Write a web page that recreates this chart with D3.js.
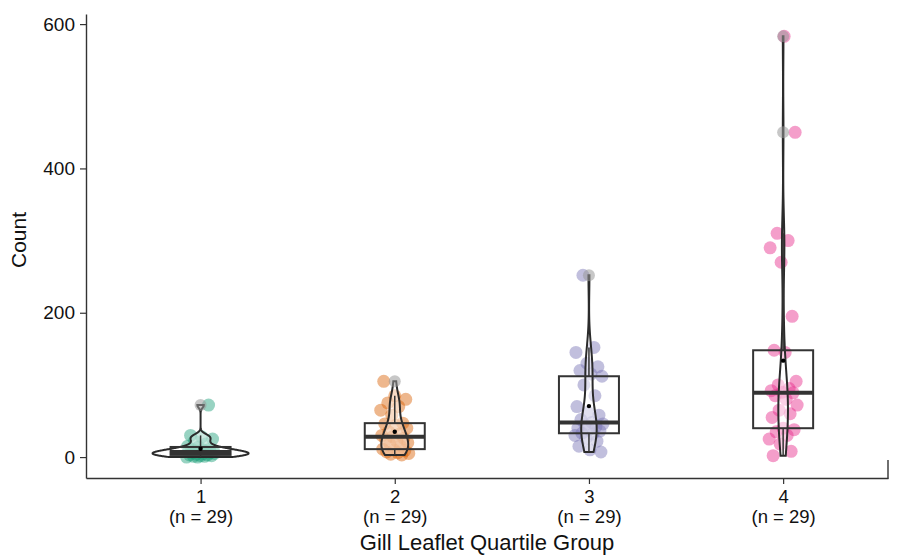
<!DOCTYPE html>
<html>
<head>
<meta charset="utf-8">
<script src="https://cdn.jsdelivr.net/npm/d3@7"></script>
<style>
  body { margin: 0; background: #fff; }
  svg { font-family: "Liberation Sans", Arial, sans-serif; }
</style>
</head>
<body>
<div id="chart"></div>
<script>
const groups = [1, 2, 3, 4];
const nLabels = ['(n = 29)', '(n = 29)', '(n = 29)', '(n = 29)'];
const yTicks = [0, 200, 400, 600];

// counts per quartile group
const group1 = [72, 30, 28, 25, 22, 18, 15, 14, 11, 11, 10, 9, 8, 8, 7, 7, 6, 6, 5, 5, 4, 3, 3, 2, 2, 1, 1, 0, 0];
const group2 = [105, 85, 80, 75, 70, 65, 58, 47, 46, 44, 40, 35, 32, 30, 28, 26, 24, 22, 20, 18, 15, 11, 10, 9, 7, 6, 5, 4, 3];
const group3 = [252, 152, 145, 130, 125, 120, 115, 112, 100, 85, 70, 62, 58, 52, 48, 46, 45, 42, 40, 38, 36, 33, 32, 30, 26, 22, 15, 10, 7];
const group4 = [583, 450, 310, 300, 290, 270, 195, 148, 145, 105, 100, 95, 92, 90, 89, 85, 80, 72, 65, 60, 55, 40, 38, 35, 30, 25, 18, 8, 2];
const allGroups = [group1, group2, group3, group4];

const colors = ['#1b9e77', '#d95f02', '#7570b3', '#e7298a'];
const jitterPhase = [22, 3, 8, 15];

const svgWidth = 902, svgHeight = 557;

const svg = d3.select('#chart').append('svg')
    .attr('width', svgWidth)
    .attr('height', svgHeight);

const x = d3.scaleLinear().domain([0.41, 4.54]).range([86, 888]);
const y = d3.scaleLinear().domain([-29, 614]).range([478, 14]);

// kernel density (gaussian, bw.nrd0), trimmed to data range
function nrd0(v) {
    const s = d3.deviation(v);
    const iqr = d3.quantile(v, 0.75) - d3.quantile(v, 0.25);
    const lo = Math.min(s, iqr / 1.34);
    return 0.9 * lo * Math.pow(v.length, -0.2);
}
function density(v) {
    const bw = nrd0(v);
    const [mn, mx] = d3.extent(v);
    const pts = [];
    for (let i = 0; i < 512; i++) {
        const t = mn + (mx - mn) * i / 511;
        const d = d3.sum(v, xi => Math.exp(-0.5 * ((t - xi) / bw) ** 2)) / (v.length * bw * Math.sqrt(2 * Math.PI));
        pts.push([t, d]);
    }
    return pts;
}

const dens = allGroups.map(g => density(g.slice().sort(d3.ascending)));
const maxD = d3.max(dens, ds => d3.max(ds, d => d[1]));
const halfW = 48;

// jittered points
allGroups.forEach((g, gi) => {
    const cx = x(groups[gi]);
    svg.append('g').selectAll('circle').data(g).enter()
        .append('circle')
        .attr('cx', (d, i) => cx + (((i * 11 + jitterPhase[gi]) % 29) / 28 * 2 - 1) * 14)
        .attr('cy', d => y(d))
        .attr('r', 6.5)
        .attr('fill', colors[gi])
        .attr('fill-opacity', 0.45);
});

// violins
dens.forEach((ds, gi) => {
    const cx = x(groups[gi]);
    const area = d3.area()
        .y(d => y(d[0]))
        .x0(d => cx - d[1] / maxD * halfW)
        .x1(d => cx + d[1] / maxD * halfW);
    svg.append('path')
        .datum(ds)
        .attr('d', area)
        .attr('fill', '#fff')
        .attr('fill-opacity', 0.5)
        .attr('stroke', '#2b2b2b')
        .attr('stroke-width', 2);
});

// boxplots
const boxW = 60;
allGroups.forEach((g, gi) => {
    const v = g.slice().sort(d3.ascending);
    const cx = x(groups[gi]);
    const q1 = d3.quantile(v, 0.25), med = d3.quantile(v, 0.5), q3 = d3.quantile(v, 0.75);
    const iqr = q3 - q1;
    const lo = d3.min(v.filter(d => d >= q1 - 1.5 * iqr));
    const hi = d3.max(v.filter(d => d <= q3 + 1.5 * iqr));
    const outs = v.filter(d => d < lo || d > hi);
    const bg = svg.append('g');
    bg.append('line').attr('x1', cx).attr('x2', cx).attr('y1', y(q3)).attr('y2', y(hi))
        .attr('stroke', '#333').attr('stroke-width', 1.5);
    bg.append('line').attr('x1', cx).attr('x2', cx).attr('y1', y(q1)).attr('y2', y(lo))
        .attr('stroke', '#333').attr('stroke-width', 1.5);
    bg.append('rect')
        .attr('x', cx - boxW / 2).attr('width', boxW)
        .attr('y', y(q3)).attr('height', y(q1) - y(q3))
        .attr('fill', 'none').attr('stroke', '#333').attr('stroke-width', 2);
    bg.append('line').attr('x1', cx - boxW / 2).attr('x2', cx + boxW / 2)
        .attr('y1', y(med)).attr('y2', y(med))
        .attr('stroke', '#333').attr('stroke-width', 4);
    bg.selectAll('.out').data(outs).enter()
        .append('circle')
        .attr('class', 'out')
        .attr('cx', cx).attr('cy', d => y(d)).attr('r', 6)
        .attr('fill', '#999').attr('fill-opacity', 0.55);
    bg.append('circle').attr('cx', cx).attr('cy', y(d3.mean(v))).attr('r', 2.2).attr('fill', '#000');
});

// axes
const yAxis = svg.append('g')
    .attr('transform', 'translate(86,0)')
    .call(d3.axisLeft(y).tickValues(yTicks).tickSize(6).tickSizeOuter(0).tickPadding(5));
yAxis.select('.domain').attr('stroke', '#333').attr('stroke-width', 1.4);
yAxis.selectAll('.tick line').attr('stroke', '#333').attr('stroke-width', 1.2);
yAxis.selectAll('.tick text').attr('font-size', 19).attr('fill', '#111');

const xAxis = svg.append('g')
    .attr('transform', 'translate(0,478)')
    .call(d3.axisBottom(x).tickValues(groups).tickSize(6).tickSizeOuter(0).tickFormat(''));
xAxis.select('.domain').attr('stroke', '#333').attr('stroke-width', 1.4);
xAxis.selectAll('.tick line').attr('stroke', '#333').attr('stroke-width', 1.2);
xAxis.selectAll('.tick').each(function(d, i) {
    const t = d3.select(this).append('text')
        .attr('fill', '#111').attr('font-size', 18.5).attr('text-anchor', 'middle');
    t.append('tspan').attr('x', 0).attr('y', 25).text(d);
    t.append('tspan').attr('x', 0).attr('y', 45).text(nLabels[i]);
});

// short piece of panel border at the right end
svg.append('line')
    .attr('x1', 888).attr('x2', 888).attr('y1', 460).attr('y2', 478.7)
    .attr('stroke', '#333').attr('stroke-width', 1.4);

svg.append('text')
    .attr('transform', 'translate(26,240) rotate(-90)')
    .attr('text-anchor', 'middle')
    .attr('font-size', 21)
    .attr('fill', '#111')
    .text('Count');

svg.append('text')
    .attr('x', 487).attr('y', 550)
    .attr('text-anchor', 'middle')
    .attr('font-size', 22)
    .attr('fill', '#111')
    .text('Gill Leaflet Quartile Group');
</script>
</body>
</html>
